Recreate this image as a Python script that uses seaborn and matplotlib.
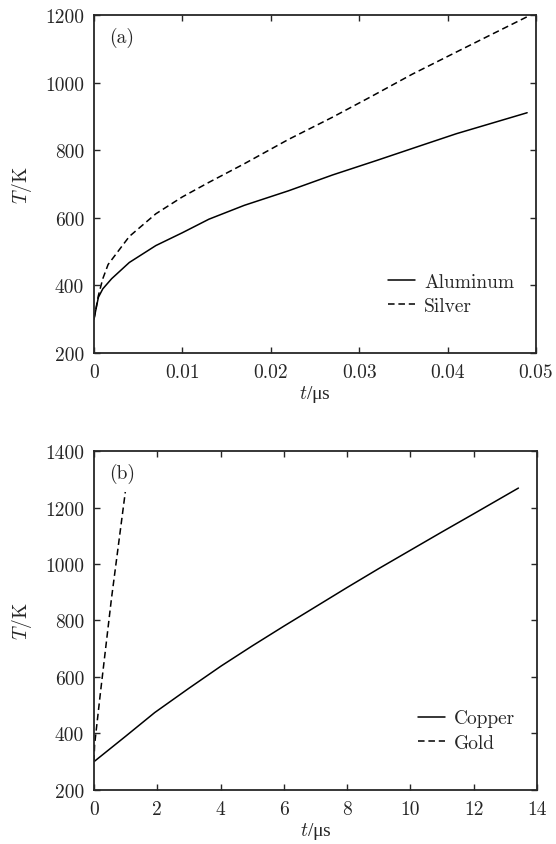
import pandas as pd
import matplotlib
matplotlib.use('Agg')
import matplotlib.pyplot as plt
import seaborn as sns

# Panel (a) - times in microseconds, temperature in K
t_al = [0, 0.0005, 0.001, 0.002, 0.004, 0.007, 0.01, 0.013, 0.017, 0.022, 0.027, 0.032, 0.037, 0.041, 0.045, 0.049]
T_al = [300, 365, 390, 420, 468, 518, 556, 596, 637, 680, 727, 770, 814, 849, 880, 911]
t_ag = [0, 0.0005, 0.001, 0.0016, 0.004, 0.007, 0.01, 0.013, 0.017, 0.022, 0.027, 0.0313, 0.036, 0.0411, 0.045, 0.049]
T_ag = [300, 370, 420, 462, 545, 612, 662, 705, 760, 832, 898, 958, 1025, 1092, 1143, 1195]

# Panel (b)
t_cu = [0, 1.0, 1.92, 3.0, 4.02, 5.0, 6.0, 6.76, 8.0, 9.0, 10.0, 11.0, 12.0, 13.41]
T_cu = [300, 390, 474, 560, 639, 710, 780, 832, 917, 984, 1049, 1114, 1178, 1269]
t_au = [0, 0.02, 0.2, 0.55, 0.99]
T_au = [300, 360, 540, 875, 1255]

sns.set_style('ticks')
plt.rcParams['font.family'] = ['cmr10', 'DejaVu Serif']
plt.rcParams['mathtext.fontset'] = 'cm'
plt.rcParams['axes.formatter.use_mathtext'] = True
plt.rcParams['axes.unicode_minus'] = False

fs = 14

df_a = pd.concat([
    pd.DataFrame({'t': t_al, 'T': T_al, 'metal': 'Aluminum'}),
    pd.DataFrame({'t': t_ag, 'T': T_ag, 'metal': 'Silver'}),
])
df_b = pd.concat([
    pd.DataFrame({'t': t_cu, 'T': T_cu, 'metal': 'Copper'}),
    pd.DataFrame({'t': t_au, 'T': T_au, 'metal': 'Gold'}),
])

fig = plt.figure(figsize=(5.56, 8.45), dpi=100)
ax1 = fig.add_axes([0.169, 0.581, 0.795, 0.400])
ax2 = fig.add_axes([0.169, 0.064, 0.797, 0.401])


def draw(ax, df, names, xlim, ylim, xticks, yticks, xtl, tag):
    sns.lineplot(data=df, x='t', y='T', style='metal', style_order=names,
                 dashes={names[0]: '', names[1]: (4.3, 2.5)},
                 color='black', lw=1.1, estimator=None, sort=False, ax=ax)
    ax.set_xlim(*xlim)
    ax.set_ylim(*ylim)
    ax.set_xticks(xticks)
    ax.set_xticklabels(xtl)
    ax.set_yticks(yticks)
    ax.set_yticklabels([str(v) for v in yticks])
    ax.tick_params(direction='in', top=True, right=True, length=4, width=1,
                   labelsize=fs, pad=7)
    for s in ax.spines.values():
        s.set_linewidth(1.3)
    # the mu sign is missing from cmr10, so this part uses a serif with it
    ax.set_xlabel(r'$t$/μs', fontsize=fs, labelpad=2,
                  family=['Liberation Serif'])
    ax.set_ylabel(r'$T$/K', fontsize=fs, labelpad=8)
    ax.text(0.035, 0.935, tag, transform=ax.transAxes, fontsize=fs,
            ha='left', va='center')
    ax.legend(frameon=False, loc='lower right', bbox_to_anchor=(0.99, 0.06),
              fontsize=fs, handlelength=1.4, handletextpad=0.45,
              labelspacing=0.35)


draw(ax1, df_a, ['Aluminum', 'Silver'], (0, 0.05), (200, 1200),
     [0, 0.01, 0.02, 0.03, 0.04, 0.05], [200, 400, 600, 800, 1000, 1200],
     ['0', '0.01', '0.02', '0.03', '0.04', '0.05'], '(a)')
draw(ax2, df_b, ['Copper', 'Gold'], (0, 14), (200, 1400),
     [0, 2, 4, 6, 8, 10, 12, 14], [200, 400, 600, 800, 1000, 1200, 1400],
     ['0', '2', '4', '6', '8', '10', '12', '14'], '(b)')

fig.savefig('out.png', dpi=100)
